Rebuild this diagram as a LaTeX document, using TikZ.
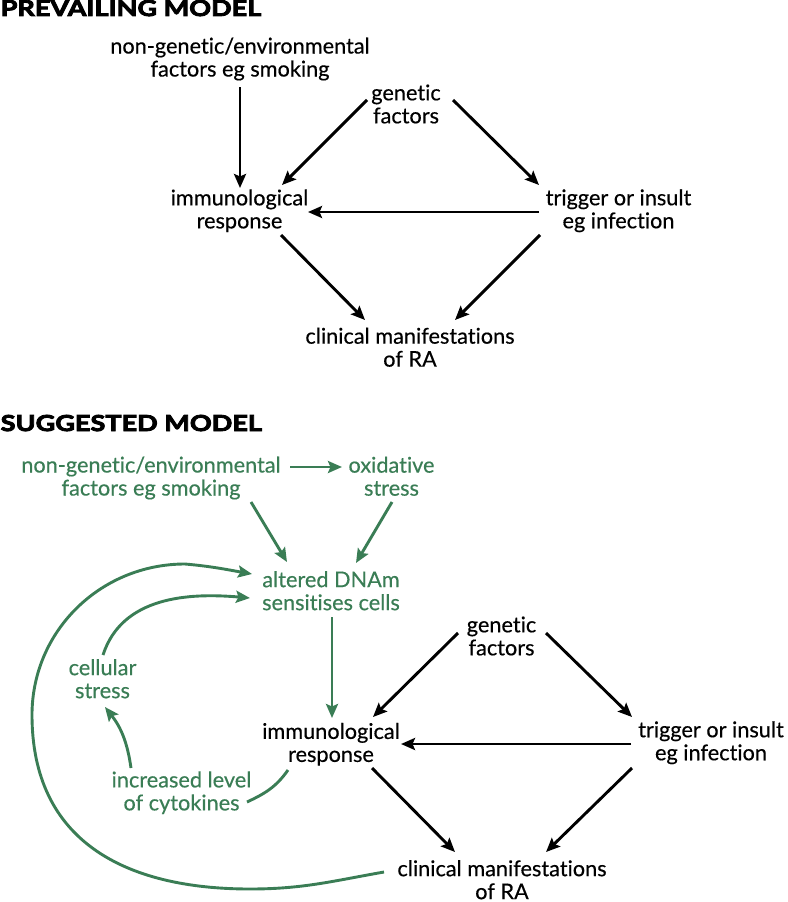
\documentclass[tikz,border=0pt]{standalone}
\usepackage{fontspec}
\setmainfont{Lato}[Ligatures={NoCommon,NoContextual},FakeBold=0.4]
\newfontfamily\titlefont{Lato}[FakeStretch=1.23,FakeBold=4]
\usetikzlibrary{arrows.meta}
\definecolor{grn}{RGB}{58,125,85}
\tikzset{
  lbl/.style={align=center, inner sep=0pt, font=\fontsize{21.7}{23}\selectfont},
  glbl/.style={lbl, text=grn},
  arr/.style={-{Stealth[length=14pt,width=12pt,inset=2.5pt]}, line width=2.9pt},
  garr/.style={arr, draw=grn},
  gline/.style={line width=2.9pt, draw=grn},
  title/.style={anchor=base west, inner sep=0pt, font=\titlefont\bfseries\fontsize{22}{24}\selectfont},
}
\begin{document}
\begin{tikzpicture}[x=1pt,y=-1pt]
\useasboundingbox (0,0) rectangle (787,902);
% ---------- prevailing model ----------
\node[title] (t1) at (0.5,16) {PREVAILING MODEL};
\node[lbl] (env1) at (240,59) {non-genetic/environmental\\factors eg smoking};
\node[lbl] (gen1) at (406,104) {genetic\\factors};
\node[lbl] (imm1) at (239.5,210.75) {immunological\\response};
\node[lbl] (trg1) at (618.5,210.75) {trigger or insult\\eg infection};
\node[lbl] (cli1) at (410,347.25) {clinical manifestations\\of RA};
\draw[arr] ([shift={(0,28)}]env1.center) -- ([shift={(0.5,-22.75)}]imm1.center);
\draw[arr] ([shift={(-39,-4)}]gen1.center) -- ([shift={(42.5,-25.75)}]imm1.center);
\draw[arr] ([shift={(47,-4)}]gen1.center) -- ([shift={(-79.5,-25.75)}]trg1.center);
\draw[arr] ([shift={(-79.5,1.25)}]trg1.center) -- ([shift={(68.5,1.25)}]imm1.center);
\draw[arr] ([shift={(41.5,24.25)}]imm1.center) -- ([shift={(-45,-27.25)}]cli1.center);
\draw[arr] ([shift={(-78.5,24.25)}]trg1.center) -- ([shift={(45,-27.25)}]cli1.center);
% ---------- suggested model ----------
\node[title] (t2) at (0.5,431) {SUGGESTED MODEL};
\node[glbl] (env2) at (151,478) {non-genetic/environmental\\factors eg smoking};
\node[glbl] (ox) at (391.5,476.25) {oxidative\\stress};
\node[glbl] (alt) at (331,590.75) {altered DNAm\\sensitises cells};
\node[glbl] (cel) at (102.5,678.75) {cellular\\stress};
\node[glbl] (inc) at (181.5,792.75) {increased level\\of cytokines};
\node[lbl] (gen2) at (501.5,636) {genetic\\factors};
\node[lbl] (imm2) at (331,744.25) {immunological\\response};
\node[lbl] (trg2) at (711,742.75) {trigger or insult\\eg infection};
\node[lbl] (cli2) at (502,879.75) {clinical manifestations\\of RA};
\draw[arr] ([shift={(-43.5,-3)}]gen2.center) -- ([shift={(42,-27.25)}]imm2.center);
\draw[arr] ([shift={(44.5,-3)}]gen2.center) -- ([shift={(-79,-25.75)}]trg2.center);
\draw[arr] ([shift={(-80,1.25)}]trg2.center) -- ([shift={(70,-0.25)}]imm2.center);
\draw[arr] ([shift={(41,23.75)}]imm2.center) -- ([shift={(-47,-27.75)}]cli2.center);
\draw[arr] ([shift={(-79,25.25)}]trg2.center) -- ([shift={(44,-27.75)}]cli2.center);
\draw[garr] ([shift={(139,-11)}]env2.center) -- ([shift={(-49.5,-9.25)}]ox.center);
\draw[garr] ([shift={(100,24)}]env2.center) -- ([shift={(-44,-28.75)}]alt.center);
\draw[garr] ([shift={(0.5,25.75)}]ox.center) -- ([shift={(25,-27.75)}]alt.center);
\draw[garr] ([shift={(1,26.25)}]alt.center) -- ([shift={(1,-26.25)}]imm2.center);
\draw[gline] ([shift={(-43,25.75)}]imm2.center) to[out=235,in=25] ([shift={(65.5,9.25)}]inc.center);
\draw[garr] ([shift={(-50.5,-24.75)}]inc.center) to[bend right=15] ([shift={(2.5,28.25)}]cel.center);
\draw[garr] ([shift={(0.5,-23.75)}]cel.center) to[out=72,in=175] ([shift={(-81,7.25)}]alt.center);
\draw[garr] ([shift={(-118,-7.75)}]cli2.center) to[out=190,in=0] (250,889) to[out=180,in=-90,looseness=1.15] (32,715) to[out=90,in=180] (185,564) to[out=-5,in=170] ([shift={(-79,-16.75)}]alt.center);
\end{tikzpicture}
\end{document}
